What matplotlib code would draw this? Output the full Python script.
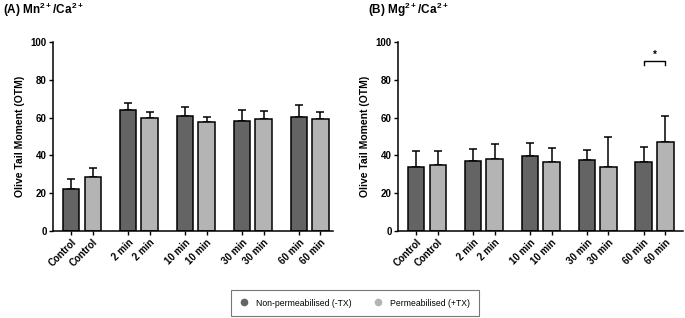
import matplotlib
matplotlib.use("Agg")
import matplotlib.pyplot as plt
import numpy as np
from matplotlib.lines import Line2D

plt.rcParams['font.family'] = ['Liberation Sans', 'DejaVu Sans']
plt.rcParams['mathtext.fontset'] = 'custom'
plt.rcParams['mathtext.rm'] = 'Liberation Sans:bold'
plt.rcParams['mathtext.bf'] = 'Liberation Sans:bold'

groups = ["Control", "2 min", "10 min", "30 min", "60 min"]
series_names = ["Non-permeabilised (-TX)", "Permeabilised (+TX)"]

# Panel A: Mn2+/Ca2+
a_dark = [22.3, 63.8, 60.8, 58.3, 60.5]
a_dark_err = [5.1, 3.9, 4.6, 5.5, 6.2]
a_light = [28.4, 60.0, 57.5, 59.5, 59.4]
a_light_err = [5.1, 3.0, 2.7, 3.9, 3.7]

# Panel B: Mg2+/Ca2+
b_dark = [34.1, 37.3, 39.9, 37.5, 36.4]
b_dark_err = [8.3, 6.2, 6.7, 5.6, 8.1]
b_light = [34.8, 38.2, 36.7, 34.1, 47.3]
b_light_err = [7.6, 7.9, 7.1, 15.5, 13.6]

titles = [r"(A) Mn$^{\mathbf{2+}}$/Ca$^{\mathbf{2+}}$", r"(B) Mg$^{\mathbf{2+}}$/Ca$^{\mathbf{2+}}$"]
ylabel = "Olive Tail Moment (OTM)"
yticks = [0, 20, 40, 60, 80, 100]

dark_c = "#646464"
light_c = "#b4b4b4"

fig = plt.figure(figsize=(6.85, 3.18), dpi=100)
W, H = 685, 318
axA = fig.add_axes([53 / W, (H - 231) / H, 280 / W, 189 / H])
axB = fig.add_axes([398 / W, (H - 231) / H, 285 / W, 189 / H])

bw = 0.29
off = 0.19

def draw(ax, dark, dark_err, light, light_err, xmax):
    x = np.arange(len(groups))
    for vals, errs, c, o in [(dark, dark_err, dark_c, -off), (light, light_err, light_c, off)]:
        ax.bar(x + o, vals, width=bw, color=c, edgecolor="black", linewidth=1.1, zorder=2)
        ax.errorbar(x + o, vals, yerr=[np.zeros(len(vals)), errs], fmt="none",
                    ecolor="black", elinewidth=1.1, capsize=3, capthick=1.1, zorder=1)
    ticks = np.concatenate([x - off, x + off])
    labels = groups + groups
    order = np.argsort(ticks)
    ax.set_xticks(ticks[order])
    ax.set_xticklabels([labels[i] for i in order], rotation=45, ha="right",
                       rotation_mode="anchor", fontsize=7, fontweight="bold")
    ax.set_xlim(-0.51, xmax)
    ax.set_ylim(0, 100)
    ax.set_yticks(yticks)
    ax.set_yticklabels([str(t) for t in yticks], fontsize=7, fontweight="bold")
    ax.set_ylabel(ylabel, fontsize=7.5, fontweight="bold", labelpad=4)
    for s in ["top", "right"]:
        ax.spines[s].set_visible(False)
    for s in ["left", "bottom"]:
        ax.spines[s].set_linewidth(1.1)
    ax.tick_params(axis="both", length=3, width=1.0, pad=1.5)
    return x

draw(axA, a_dark, a_dark_err, a_light, a_light_err, 4.41)
xb = draw(axB, b_dark, b_dark_err, b_light, b_light_err, 4.5)

# significance bracket on 60 min pair in panel B
x0, x1 = xb[4] - off, xb[4] + off
axB.plot([x0, x0, x1, x1], [88, 90, 90, 88], color="black", lw=1.0, clip_on=False)
axB.text((x0 + x1) / 2, 90.5, "*", ha="center", va="bottom", fontsize=7, fontweight="bold")

fig.text(3 / W, 1 - 10 / H, titles[0], fontsize=8.5, fontweight="bold", va="center", ha="left")
fig.text(368 / W, 1 - 10 / H, titles[1], fontsize=8.5, fontweight="bold", va="center", ha="left")

handles = [Line2D([], [], marker="o", linestyle="none", markersize=4.5, color=dark_c),
           Line2D([], [], marker="o", linestyle="none", markersize=4.5, color=light_c)]
leg = fig.legend(handles, series_names, loc="center", bbox_to_anchor=(355 / W, 1 - 303 / H),
                 ncol=2, fontsize=6.2, frameon=True, fancybox=False, edgecolor="#555555",
                 handletextpad=0.9, columnspacing=2.6, borderpad=1.0, handlelength=1.0)
leg.get_frame().set_linewidth(0.8)

fig.savefig("out.png", dpi=100)
